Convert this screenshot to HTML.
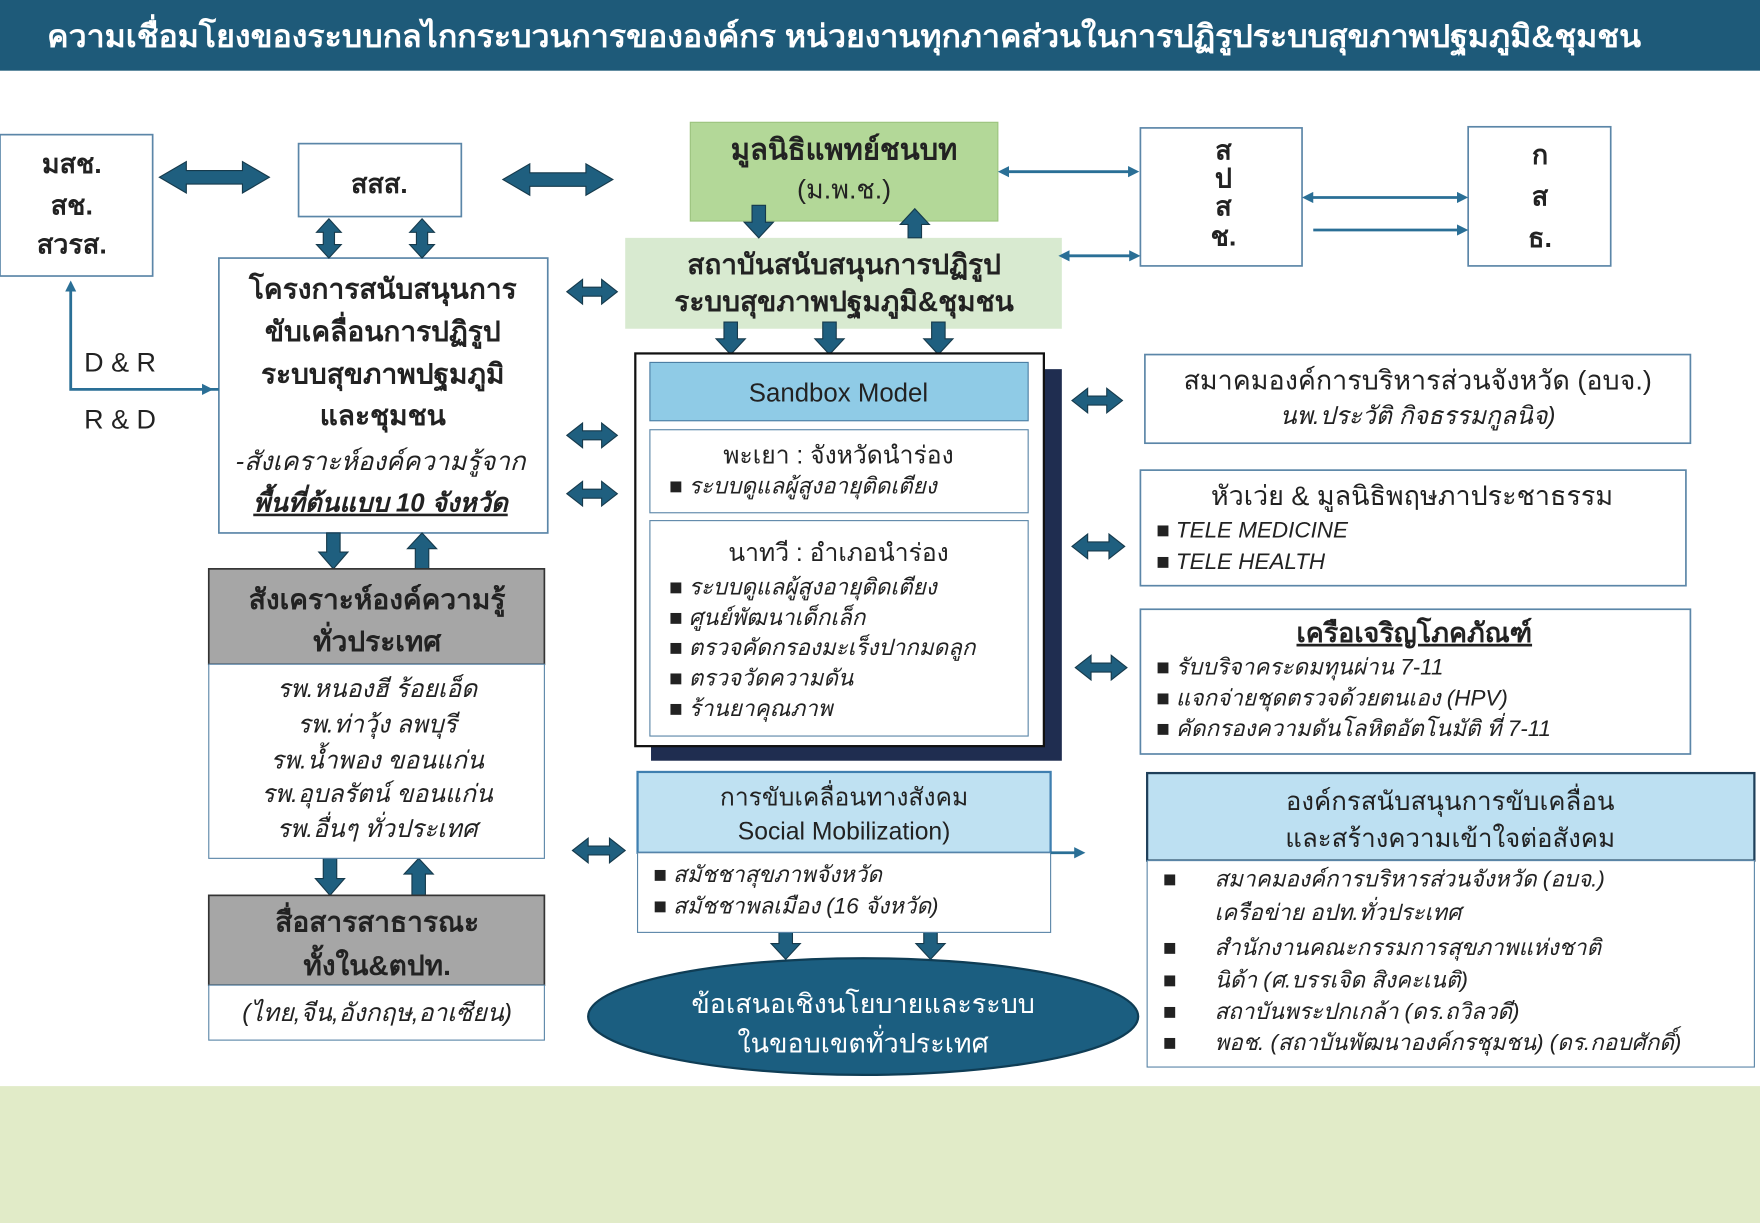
<!DOCTYPE html>
<html><head><meta charset="utf-8"><style>
html,body{margin:0;padding:0;width:1760px;height:1223px;overflow:hidden;background:#fff}
svg{display:block}
text{font-family:"Liberation Sans","DejaVu Sans",sans-serif;fill:#222}
.b{font-weight:bold}.i{font-style:italic}
</style></head><body>
<svg width="1760" height="1223" viewBox="0 0 1568 1090" preserveAspectRatio="none" xmlns="http://www.w3.org/2000/svg">
<defs>
<marker id="t" viewBox="0 0 10 10" refX="5" refY="5" markerWidth="10" markerHeight="10" markerUnits="userSpaceOnUse" orient="auto-start-reverse"><path d="M0,0L10,5L0,10z" fill="#2a6f96"/></marker>
</defs>
<rect x="0" y="0" width="1568" height="63" fill="#1e5a79"/>
<text class="b" x="752" y="42" font-size="28" text-anchor="middle" textLength="1420" lengthAdjust="spacingAndGlyphs" style="fill:#fff">ความเชื่อมโยงของระบบกลไกกระบวนการขององค์กร หน่วยงานทุกภาคส่วนในการปฏิรูประบบสุขภาพปฐมภูมิ&amp;ชุมชน</text>
<rect x="0" y="968" width="1568" height="122" fill="#e1ebc8"/>

<g fill="#fff" stroke="#5b86a8" stroke-width="1.5">
<rect x="0" y="120" width="136" height="126"/>
<rect x="266" y="128" width="145" height="65"/>
<rect x="1016" y="114" width="144" height="123"/>
<rect x="1308" y="113" width="127" height="124"/>
<rect x="195" y="230" width="293" height="245"/>
<rect x="1020" y="316" width="486" height="79"/>
<rect x="1016" y="419" width="486" height="103"/>
<rect x="1016" y="543" width="490" height="129"/>
</g>
<rect x="615" y="109" width="274" height="88" fill="#b3d898" stroke="#9cc47e"/>
<rect x="557" y="212" width="389" height="81" fill="#d8ead0"/>

<text class="b" x="64" y="154" font-size="24" text-anchor="middle">มสช.</text>
<text class="b" x="64" y="191" font-size="24" text-anchor="middle">สช.</text>
<text class="b" x="64" y="226" font-size="24" text-anchor="middle">สวรส.</text>
<text class="b" x="338" y="172" font-size="24" text-anchor="middle">สสส.</text>
<text class="b" x="752" y="142" font-size="26" text-anchor="middle">มูลนิธิแพทย์ชนบท</text>
<text x="752" y="177" font-size="24" text-anchor="middle">(ม.พ.ช.)</text>
<g class="b" font-size="24" text-anchor="middle"><text x="1090" y="142">ส</text><text x="1090" y="167">ป</text><text x="1090" y="192">ส</text><text x="1090" y="219">ช.</text>
<text x="1372" y="146">ก</text><text x="1372" y="183">ส</text><text x="1372" y="220">ธ.</text></g>
<text class="b" x="752" y="244" font-size="25" text-anchor="middle">สถาบันสนับสนุนการปฏิรูป</text>
<text class="b" x="752" y="277" font-size="25" text-anchor="middle">ระบบสุขภาพปฐมภูมิ&amp;ชุมชน</text>
<g text-anchor="middle" font-size="25" class="b">
<text x="341" y="266">โครงการสนับสนุนการ</text><text x="341" y="304">ขับเคลื่อนการปฏิรูป</text><text x="341" y="342">ระบบสุขภาพปฐมภูมิ</text><text x="341" y="379">และชุมชน</text></g>
<text class="i" x="339" y="419" font-size="23" text-anchor="middle">-สังเคราะห์องค์ความรู้จาก</text>
<text class="b i" x="339" y="456" font-size="23" text-anchor="middle" text-decoration="underline">พื้นที่ต้นแบบ 10 จังหวัด</text>
<text x="75" y="331" font-size="24">D &amp; R</text>
<text x="75" y="382" font-size="24">R &amp; D</text>
<polyline points="195,347 63,347 63,255" fill="none" stroke="#2a6f96" stroke-width="2.5" marker-end="url(#t)"/>
<line x1="180" y1="347" x2="185" y2="347" stroke="#2a6f96" stroke-width="2.5" marker-end="url(#t)"/>

<g stroke="#2a6f96" stroke-width="2.5" marker-start="url(#t)" marker-end="url(#t)">
<line x1="894" y1="153" x2="1010" y2="153"/>
<line x1="1165" y1="176" x2="1303" y2="176"/>
<line x1="948" y1="228" x2="1011" y2="228"/>
</g>
<line x1="1170" y1="205" x2="1303" y2="205" stroke="#2a6f96" stroke-width="2.5" marker-end="url(#t)"/>

<!-- block arrows -->
<g fill="#1f5f7f" stroke="#163a4c" stroke-width="1">
<polygon points="142,158 166,144 166,152 216,152 216,144 240,158 216,172 216,164 166,164 166,172"/>
<polygon points="448,160 472,146 472,154 522,154 522,146 546,160 522,174 522,166 472,166 472,174"/>
<polygon points="505,260 519,249 519,256 536,256 536,249 550,260 536,271 536,264 519,264 519,271"/>
<polygon points="505,388 519,377 519,384 536,384 536,377 550,388 536,399 536,392 519,392 519,399"/>
<polygon points="505,440 519,429 519,436 536,436 536,429 550,440 536,451 536,444 519,444 519,451"/>
<polygon points="955,357 969,346 969,353 986,353 986,346 1000,357 986,368 986,361 969,361 969,368"/>
<polygon points="955,487 969,476 969,483 988,483 988,476 1002,487 988,498 988,491 969,491 969,498"/>
<polygon points="958,595 972,584 972,591 990,591 990,584 1004,595 990,606 990,599 972,599 972,606"/>
<polygon points="510,758 524,747 524,754 543,754 543,747 557,758 543,769 543,762 524,762 524,769"/>
<polygon points="293,195 304,207 298,207 298,218 304,218 293,230 282,218 288,218 288,207 282,207"/>
<polygon points="376,195 387,207 381,207 381,218 387,218 376,230 365,218 371,218 371,207 365,207"/>
<polygon points="670,183 682,183 682,198 689,198 676,212 663,198 670,198"/>
<polygon points="809,212 821,212 821,200 828,200 815,186 802,200 809,200"/>
<polygon points="645,287 657,287 657,302 664,302 651,316 638,302 645,302"/>
<polygon points="733,287 745,287 745,302 752,302 739,316 726,302 733,302"/>
<polygon points="830,287 842,287 842,302 849,302 836,316 823,302 830,302"/>
<polygon points="291,475 303,475 303,492 310,492 297,507 284,492 291,492"/>
<polygon points="370,507 382,507 382,489 389,489 376,475 363,489 370,489"/>
<polygon points="288,765 300,765 300,783 307,783 294,798 281,783 288,783"/>
<polygon points="367,798 379,798 379,779 386,779 373,765 360,779 367,779"/>
<polygon points="694,831 706,831 706,841 713,841 700,855 687,841 694,841"/>
<polygon points="823,831 835,831 835,841 842,841 829,855 816,841 823,841"/>
</g>

<!-- sandbox -->
<rect x="580" y="329" width="366" height="349" fill="#1f2d50"/>
<rect x="566" y="315" width="364" height="350" fill="#fff" stroke="#111" stroke-width="2"/>
<rect x="579" y="323" width="337" height="52" fill="#8fcbe6" stroke="#4a7da3"/>
<text x="747" y="358" font-size="23" text-anchor="middle">Sandbox Model</text>
<rect x="579" y="383" width="337" height="74" fill="#fff" stroke="#5b86a8"/>
<text x="747" y="413" font-size="22" text-anchor="middle">พะเยา : จังหวัดนำร่อง</text>
<g font-size="20" class="i"><text x="596" y="440">■  ระบบดูแลผู้สูงอายุติดเตียง</text></g>
<rect x="579" y="464" width="337" height="192" fill="#fff" stroke="#5b86a8"/>
<text x="747" y="500" font-size="22" text-anchor="middle">นาทวี : อำเภอนำร่อง</text>
<g font-size="20" class="i">
<text x="596" y="530">■  ระบบดูแลผู้สูงอายุติดเตียง</text>
<text x="596" y="557">■  ศูนย์พัฒนาเด็กเล็ก</text>
<text x="596" y="584">■  ตรวจคัดกรองมะเร็งปากมดลูก</text>
<text x="596" y="611">■  ตรวจวัดความดัน</text>
<text x="596" y="638">■  ร้านยาคุณภาพ</text></g>

<text x="1263" y="347" font-size="24" text-anchor="middle">สมาคมองค์การบริหารส่วนจังหวัด (อบจ.)</text>
<text class="i" x="1263" y="378" font-size="22" text-anchor="middle">นพ.ประวัติ  กิจธรรมกูลนิจ)</text>
<text x="1258" y="450" font-size="24" text-anchor="middle">หัวเว่ย &amp; มูลนิธิพฤษภาประชาธรรม</text>
<g font-size="20" class="i"><text x="1030" y="479">■  TELE MEDICINE</text><text x="1030" y="507">■  TELE HEALTH</text></g>
<text class="b" x="1260" y="572" font-size="24" text-anchor="middle" text-decoration="underline">เครือเจริญโภคภัณฑ์</text>
<g font-size="20" class="i"><text x="1030" y="601">■  รับบริจาคระดมทุนผ่าน 7-11</text><text x="1030" y="629">■  แจกจ่ายชุดตรวจด้วยตนเอง (HPV)</text><text x="1030" y="656">■  คัดกรองความดันโลหิตอัตโนมัติ ที่ 7-11</text></g>

<rect x="186" y="507" width="299" height="85" fill="#a6a6a6" stroke="#333" stroke-width="1.5"/>
<text class="b" x="336" y="543" font-size="25" text-anchor="middle">สังเคราะห์องค์ความรู้</text>
<text class="b" x="336" y="580" font-size="25" text-anchor="middle">ทั่วประเทศ</text>
<rect x="186" y="592" width="299" height="173" fill="#fff" stroke="#5b86a8"/>
<g class="i" font-size="22" text-anchor="middle">
<text x="336" y="621">รพ.หนองฮี ร้อยเอ็ด</text><text x="336" y="653">รพ.ท่าวุ้ง ลพบุรี</text><text x="336" y="685">รพ.น้ำพอง  ขอนแก่น</text><text x="336" y="715">รพ.อุบลรัตน์ ขอนแก่น</text><text x="336" y="746">รพ.อื่นๆ ทั่วประเทศ</text></g>
<rect x="186" y="798" width="299" height="80" fill="#a6a6a6" stroke="#333" stroke-width="1.5"/>
<text class="b" x="336" y="830" font-size="25" text-anchor="middle">สื่อสารสาธารณะ</text>
<text class="b" x="336" y="869" font-size="25" text-anchor="middle">ทั้งใน&amp;ตปท.</text>
<rect x="186" y="878" width="299" height="49" fill="#fff" stroke="#5b86a8"/>
<text class="i" x="336" y="910" font-size="22" text-anchor="middle">(ไทย,จีน,อังกฤษ,อาเซียน)</text>

<rect x="568" y="688" width="368" height="72" fill="#bfe1f2" stroke="#3f7fb0" stroke-width="2"/>
<text x="752" y="718" font-size="22" text-anchor="middle">การขับเคลื่อนทางสังคม</text>
<text x="752" y="748" font-size="22" text-anchor="middle">Social Mobilization)</text>
<rect x="568" y="760" width="368" height="71" fill="#fff" stroke="#5b86a8"/>
<g font-size="20" class="i"><text x="582" y="786">■  สมัชชาสุขภาพจังหวัด</text><text x="582" y="814">■  สมัชชาพลเมือง (16 จังหวัด)</text></g>
<line x1="936" y1="760" x2="962" y2="760" stroke="#2a6f96" stroke-width="2.5" marker-end="url(#t)"/>
<ellipse cx="769" cy="906" rx="245" ry="52" fill="#1b5e80" stroke="#0f3d55" stroke-width="2"/>
<text x="769" y="903" font-size="24" text-anchor="middle" style="fill:#fff">ข้อเสนอเชิงนโยบายและระบบ</text>
<text x="769" y="938" font-size="24" text-anchor="middle" style="fill:#fff">ในขอบเขตทั่วประเทศ</text>

<rect x="1022" y="689" width="541" height="78" fill="#bde0f2" stroke="#1f3f5a" stroke-width="2"/>
<text x="1292" y="722" font-size="23" text-anchor="middle">องค์กรสนับสนุนการขับเคลื่อน</text>
<text x="1292" y="755" font-size="23" text-anchor="middle">และสร้างความเข้าใจต่อสังคม</text>
<rect x="1022" y="767" width="541" height="184" fill="#fff" stroke="#5b86a8"/>
<g font-size="20" class="i">
<text x="1036" y="790">■</text><text x="1082" y="790">สมาคมองค์การบริหารส่วนจังหวัด (อบจ.)</text>
<text x="1082" y="820">เครือข่าย อปท.ทั่วประเทศ</text>
<text x="1036" y="851">■</text><text x="1082" y="851">สำนักงานคณะกรรมการสุขภาพแห่งชาติ</text>
<text x="1036" y="880">■</text><text x="1082" y="880">นิด้า (ศ.บรรเจิด สิงคะเนติ)</text>
<text x="1036" y="908">■</text><text x="1082" y="908">สถาบันพระปกเกล้า (ดร.ถวิลวดี)</text>
<text x="1036" y="936">■</text><text x="1082" y="936">พอช. (สถาบันพัฒนาองค์กรชุมชน) (ดร.กอบศักดิ์)</text></g>
</svg>
</body></html>
